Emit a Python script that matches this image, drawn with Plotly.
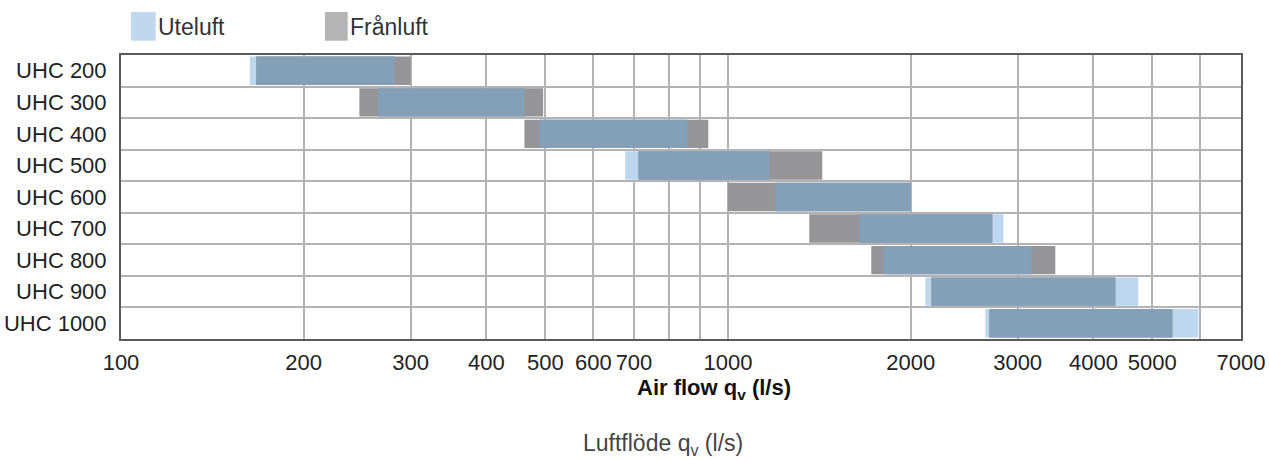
import math
import plotly.graph_objects as go

# ---- data ----
models = ["UHC 200", "UHC 300", "UHC 400", "UHC 500", "UHC 600",
          "UHC 700", "UHC 800", "UHC 900", "UHC 1000"]
uteluft_min = [163, 265, 489, 677, 1196, 1646, 1803, 2114, 2654]
uteluft_max = [282, 462, 857, 1170, 2000, 2842, 3160, 4742, 5955]
franluft_min = [167, 247, 462, 712, 1000, 1361, 1722, 2163, 2695]
franluft_max = [300, 496, 928, 1430, 2000, 2725, 3461, 4346, 5395]
series_names = ["Uteluft", "Frånluft"]
x_tickvals = [100, 200, 300, 400, 500, 600, 700,
              1000, 2000, 3000, 4000, 5000, 7000]
x_ticktext = ["100", "200", "300", "400", "500", "600", "700",
              "1000", "2000", "3000", "4000", "5000", "7000"]
x_minor_gridvals = [800, 900, 6000]

# ---- styles ----
C_UTE = "#BDD7EE"
C_FRAN = "#959598"
C_OVER = "#84A0B8"
C_UTE_LEG = "#C0D8EE"
C_FRAN_LEG = "#B4B4B4"
GRID = "#B3B3B5"
FONT = "Liberation Sans, Arial, Helvetica, sans-serif"

ypos = list(range(len(models)))
over_min = [max(a, b) for a, b in zip(uteluft_min, franluft_min)]
over_max = [min(a, b) for a, b in zip(uteluft_max, franluft_max)]

fig = go.Figure()
for lo, hi, col, nm in [(uteluft_min, uteluft_max, C_UTE, series_names[0]),
                        (franluft_min, franluft_max, C_FRAN, series_names[1]),
                        (over_min, over_max, C_OVER, "overlap")]:
    fig.add_trace(go.Bar(
        y=ypos, x=[h - l for l, h in zip(lo, hi)], base=lo,
        orientation="h", marker=dict(color=col, line=dict(width=0)),
        width=0.9, name=nm, showlegend=False,
    ))

fig.update_layout(
    width=1269, height=460,
    margin=dict(l=121, r=28, t=55, b=121),
    paper_bgcolor="white", plot_bgcolor="white",
    barmode="overlay",
    font=dict(family=FONT, size=22, color="#222222"),
    showlegend=False,
)
fig.update_xaxes(
    type="log", range=[2, math.log10(7000)],
    tickmode="array", tickvals=x_tickvals, ticktext=x_ticktext,
    showgrid=True, gridcolor=GRID, gridwidth=2,
    minor=dict(tickmode="array", tickvals=x_minor_gridvals, showgrid=True,
               gridcolor=GRID, gridwidth=2, ticks=""),
    showline=True, linecolor="#5A5A5A", linewidth=2, mirror=True,
    ticks="", ticklabelstandoff=3, zeroline=False, automargin=False,
)
fig.update_yaxes(
    range=[len(models) - 0.5, -0.5],
    tickmode="array", tickvals=ypos, ticktext=models,
    showgrid=False,
    minor=dict(tick0=0.5, dtick=1, showgrid=True, gridcolor=GRID, gridwidth=2, ticks=""),
    showline=True, linecolor="#5A5A5A", linewidth=2, mirror=True,
    ticks="", ticklabelstandoff=8, zeroline=False, automargin=False,
)

# legend (drawn manually to match large swatches)
W = 1120.0
H = 284.3
def px(x):
    return (x - 121) / W
def py(y):
    return (339.3 - y) / H

shapes = [
    dict(type="rect", xref="paper", yref="paper", x0=px(131), x1=px(155.7),
         y0=py(40.7), y1=py(12), fillcolor=C_UTE_LEG, line=dict(width=0)),
    dict(type="rect", xref="paper", yref="paper", x0=px(325), x1=px(347.7),
         y0=py(40.7), y1=py(12), fillcolor=C_FRAN_LEG, line=dict(width=0)),
]
fig.update_layout(shapes=shapes)
fig.add_annotation(x=px(155.5), y=py(26.5), xref="paper", yref="paper",
                   text=series_names[0], showarrow=False, xanchor="left", yanchor="middle",
                   font=dict(size=23, color="#333333"))
fig.add_annotation(x=px(347.5), y=py(26.5), xref="paper", yref="paper",
                   text=series_names[1], showarrow=False, xanchor="left", yanchor="middle",
                   font=dict(size=23, color="#333333"))
fig.add_annotation(x=px(714), y=py(389), xref="paper", yref="paper",
                   text="<b>Air flow q<sub>v</sub> (l/s)</b>", showarrow=False,
                   xanchor="center", yanchor="middle", font=dict(size=22, color="#111111"))
fig.add_annotation(x=px(663), y=py(445), xref="paper", yref="paper",
                   text="Luftflöde q<sub>v</sub> (l/s)", showarrow=False,
                   xanchor="center", yanchor="middle", font=dict(size=23, color="#444444"))

fig.write_html("out.html", config={"displayModeBar": False},
               post_script="document.body.style.margin='0';document.body.style.padding='0';document.body.style.overflow='hidden';")
